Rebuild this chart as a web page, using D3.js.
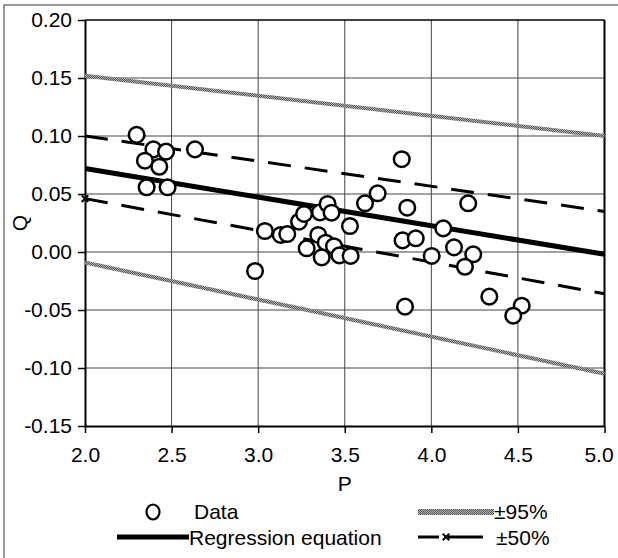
<!DOCTYPE html>
<html>
<head>
<meta charset="utf-8">
<script src="https://cdn.jsdelivr.net/npm/d3@7"></script>
<style>
  body { margin: 0; background: #fff; }
  svg { font-family: "Liberation Sans", Arial, sans-serif; }
</style>
</head>
<body>
<div class="chart"></div>
<script>
// Data
const pData = [2.298, 2.395, 2.468, 2.346, 2.429, 2.635, 2.356, 2.477,
  2.982, 3.039, 3.130, 3.168, 3.236, 3.265, 3.280, 3.347, 3.357, 3.401, 3.424,
  3.390, 3.367, 3.438, 3.469, 3.534, 3.530, 3.617, 3.690,
  3.829, 3.861, 3.834, 3.910, 4.002, 4.069, 4.213, 4.131, 4.242, 4.194,
  3.848, 4.335, 4.522, 4.473]
const qData = [0.101, 0.0885, 0.0865, 0.0787, 0.0735, 0.0885, 0.0558, 0.0558,
  -0.0164, 0.0181, 0.0147, 0.0155, 0.0262, 0.0328, 0.0032, 0.0147, 0.0342, 0.0414, 0.0339,
  0.0080, -0.0046, 0.005, -0.0029, -0.0034, 0.0224, 0.042, 0.0506,
  0.080, 0.0382, 0.0100, 0.0118, -0.0034, 0.0204, 0.042, 0.0040, -0.0020, -0.0127,
  -0.0471, -0.0385, -0.0463, -0.0549]

// line end points at P = 2 and P = 5
const lineP = [2.0, 5.0]
const regression = [0.072, -0.002]
const upper50 = [0.100, 0.035]
const lower50 = [0.046, -0.036]
const upper95 = [0.152, 0.100]
const lower95 = [-0.009, -0.105]

const xTicks = [2.0, 2.5, 3.0, 3.5, 4.0, 4.5, 5.0]
const yTicks = [0.20, 0.15, 0.10, 0.05, 0.00, -0.05, -0.10, -0.15]

const width = 618
const height = 558
const margin = {top: 20, right: 13, bottom: 132, left: 85}
const w = 604.5 - margin.left
const h = 426 - margin.top
const fs = 21

const svg = d3.select('.chart')
  .append('svg')
  .attr('width', width)
  .attr('height', height)

// texture for the 95% lines
const defs = svg.append('defs')
const pat = defs.append('pattern')
  .attr('id', 'grain')
  .attr('width', 2).attr('height', 2)
  .attr('patternUnits', 'userSpaceOnUse')
pat.append('rect').attr('width', 2).attr('height', 2).attr('fill', '#b4b4b4')
pat.append('rect').attr('width', 1).attr('height', 1).attr('fill', '#555')
pat.append('rect').attr('x', 1).attr('y', 1).attr('width', 1).attr('height', 1).attr('fill', '#555')

// outer frame
svg.append('rect')
  .attr('x', 4).attr('y', 5)
  .attr('width', 630).attr('height', 600)
  .attr('fill', 'none')
  .attr('stroke', '#777')
  .attr('stroke-width', 1.5)

const g = svg.append('g')
  .attr('transform', 'translate(' + margin.left + ',' + margin.top + ')')

let x = d3.scaleLinear().domain([2, 5]).range([0, w])
let y = d3.scaleLinear().domain([-0.15, 0.20]).range([h, 0])

// grid
g.append('g')
  .selectAll('line')
  .data(xTicks.slice(1, -1))
  .enter()
  .append('line')
  .attr('x1', d => x(d)).attr('x2', d => x(d))
  .attr('y1', 0).attr('y2', h)
  .attr('stroke', '#444').attr('stroke-width', 1)

g.append('g')
  .selectAll('line')
  .data(yTicks.slice(1, -1))
  .enter()
  .append('line')
  .attr('x1', 0).attr('x2', w)
  .attr('y1', d => y(d)).attr('y2', d => y(d))
  .attr('stroke', '#444').attr('stroke-width', 1)

// top and right edges
g.append('line')
  .attr('x1', 0).attr('x2', w).attr('y1', y(0.20)).attr('y2', y(0.20))
  .attr('stroke', '#000').attr('stroke-width', 1.5)
g.append('line')
  .attr('x1', x(5)).attr('x2', x(5)).attr('y1', 0).attr('y2', h)
  .attr('stroke', '#000').attr('stroke-width', 2)

// axes
let xAxis = g.append('g')
  .attr('transform', 'translate(0,' + h + ')')
  .call(d3.axisBottom(x).tickValues(xTicks).tickFormat(d3.format('.1f')).tickSize(7).tickSizeOuter(0))
let yAxis = g.append('g')
  .call(d3.axisLeft(y).tickValues(yTicks).tickFormat(d3.format('.2f')).tickSize(7).tickSizeOuter(0))

for (const ax of [xAxis, yAxis]) {
  ax.select('.domain').attr('stroke', '#000').attr('stroke-width', 2)
  ax.selectAll('.tick line').attr('stroke', '#000').attr('stroke-width', 1.5)
  ax.selectAll('text').attr('font-size', fs).attr('fill', '#000')
    .attr('font-family', '"Liberation Sans", Arial, sans-serif')
}
xAxis.selectAll('text').attr('dy', '1.25em')
// last label is pulled in so it stays inside the frame
xAxis.selectAll('text').filter(d => d === 5).attr('dx', -6)
yAxis.selectAll('text').attr('x', -13).text(d => d < 0 ? '-' + d3.format('.2f')(-d) : d3.format('.2f')(d))

// axis titles
svg.append('text')
  .attr('x', margin.left + w / 2).attr('y', 491)
  .attr('text-anchor', 'middle')
  .attr('font-size', fs)
  .text('P')
svg.append('text')
  .attr('transform', 'translate(27,' + (margin.top + h / 2) + ') rotate(-90)')
  .attr('text-anchor', 'middle')
  .attr('font-size', fs)
  .text('Q')

// lines
const lineGen = d3.line().x(d => x(d[0])).y(d => y(d[1]))
const pair = arr => lineP.map((p, i) => [p, arr[i]])

g.selectAll('.band95')
  .data([upper95, lower95])
  .enter()
  .append('path')
  .attr('d', d => lineGen(pair(d)))
  .attr('fill', 'none')
  .attr('stroke', 'url(#grain)')
  .attr('stroke-width', 4)

g.selectAll('.band50')
  .data([upper50, lower50])
  .enter()
  .append('path')
  .attr('d', d => lineGen(pair(d)))
  .attr('fill', 'none')
  .attr('stroke', '#000')
  .attr('stroke-width', 3)
  .attr('stroke-dasharray', '23,14')

g.append('path')
  .attr('d', lineGen(pair(regression)))
  .attr('fill', 'none')
  .attr('stroke', '#000')
  .attr('stroke-width', 5)

// marker at the start of the lower 50% line
const star = d3.symbol().type(d3.symbolX).size(30)
g.append('path')
  .attr('d', star())
  .attr('transform', 'translate(' + x(lineP[0]) + ',' + y(lower50[0]) + ')')
  .attr('stroke', '#000').attr('stroke-width', 2).attr('fill', 'none')

// points
g.selectAll('circle')
  .data(pData.map((p, i) => [p, qData[i]]))
  .enter()
  .append('circle')
  .attr('cx', d => x(d[0]))
  .attr('cy', d => y(d[1]))
  .attr('r', 7.8)
  .attr('fill', '#fff')
  .attr('stroke', '#000')
  .attr('stroke-width', 2.5)

// legend
const leg = svg.append('g').attr('font-size', fs)
leg.append('ellipse')
  .attr('cx', 153).attr('cy', 512).attr('rx', 6.5).attr('ry', 7.5)
  .attr('fill', '#fff').attr('stroke', '#000').attr('stroke-width', 2.2)
leg.append('text').attr('x', 194).attr('y', 519).text('Data')

leg.append('line')
  .attr('x1', 117).attr('x2', 189).attr('y1', 537).attr('y2', 537)
  .attr('stroke', '#000').attr('stroke-width', 5)
leg.append('text').attr('x', 189).attr('y', 545).text('Regression equation')

leg.append('rect')
  .attr('x', 418).attr('y', 509).attr('width', 76).attr('height', 6)
  .attr('fill', 'url(#grain)')
leg.append('text').attr('x', 494).attr('y', 519).text('±95%')

leg.append('line')
  .attr('x1', 418).attr('x2', 439).attr('y1', 537).attr('y2', 537)
  .attr('stroke', '#000').attr('stroke-width', 3)
leg.append('line')
  .attr('x1', 448).attr('x2', 483).attr('y1', 537).attr('y2', 537)
  .attr('stroke', '#000').attr('stroke-width', 3)
leg.append('path')
  .attr('d', star())
  .attr('transform', 'translate(446,537)')
  .attr('stroke', '#000').attr('stroke-width', 2).attr('fill', 'none')
leg.append('text').attr('x', 496).attr('y', 545).text('±50%')
</script>
</body>
</html>
